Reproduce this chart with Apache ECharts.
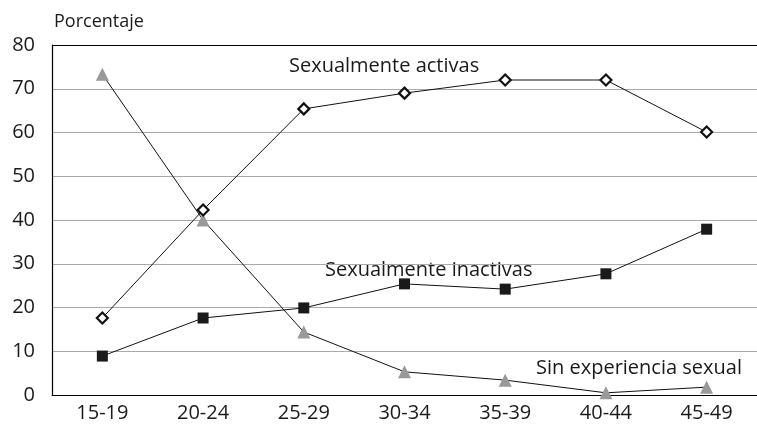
<!DOCTYPE html>
<html>
<head>
<meta charset="utf-8">
<script src="https://cdn.jsdelivr.net/npm/echarts@6/dist/echarts.min.js"></script>
<style>
  html, body { margin: 0; padding: 0; background: #fff; }
  #chart { width: 757px; height: 429px; }
</style>
</head>
<body>
<div id="chart"></div>
<script>
// grupos de edad
const categories = ["15-19", "20-24", "25-29", "30-34", "35-39", "40-44", "45-49"];
const activas = [17.6, 42.3, 65.4, 69.0, 72.0, 72.0, 60.1];
const inactivas = [8.9, 17.6, 19.9, 25.4, 24.2, 27.7, 37.9];
const sinExperiencia = [73.3, 40.0, 14.4, 5.3, 3.4, 0.5, 1.8];

const FONT = "'Open Sans', 'Noto Sans', sans-serif";
const chart = echarts.init(document.getElementById("chart"));

function label(txt, x, y, size) {
  return {
    type: "text",
    x: x,
    y: y,
    style: { text: txt, font: size + "px " + FONT, fill: "#1a1a1a", align: "left", verticalAlign: "middle" }
  };
}

const option = {
  animation: false,
  textStyle: { fontFamily: FONT },
  grid: { left: 52, right: -7, top: 45, bottom: 34, containLabel: false },
  xAxis: {
    type: "category",
    data: categories,
    boundaryGap: true,
    axisLine: { lineStyle: { color: "#000", width: 1.2 } },
    axisTick: { show: false },
    axisLabel: { color: "#1a1a1a", fontSize: 20, margin: 8, fontFamily: FONT }
  },
  yAxis: {
    type: "value",
    min: 0,
    max: 80,
    interval: 10,
    axisLine: { show: true, lineStyle: { color: "#000", width: 1.2 } },
    axisTick: { show: false },
    axisLabel: { color: "#1a1a1a", fontSize: 20, margin: 17, fontFamily: FONT },
    splitLine: {
      lineStyle: {
        color: ["#000", "#aaa", "#aaa", "#aaa", "#aaa", "#aaa", "#aaa", "#aaa", "#000"],
        width: 1.2
      }
    }
  },
  graphic: [
    label("Porcentaje", 54, 22, 18),
    label("Sexualmente activas", 289, 66, 20),
    label("Sexualmente inactivas", 325, 270, 20),
    label("Sin experiencia sexual", 536, 368, 20)
  ],
  series: [
    {
      name: "Sin experiencia sexual",
      type: "line",
      data: sinExperiencia,
      symbol: "triangle",
      symbolSize: 13,
      lineStyle: { color: "#111", width: 1 },
      itemStyle: { color: "#999", borderWidth: 0 },
      z: 2
    },
    {
      name: "Sexualmente inactivas",
      type: "line",
      data: inactivas,
      symbol: "rect",
      symbolSize: 11,
      lineStyle: { color: "#111", width: 1 },
      itemStyle: { color: "#1a1a1a", borderWidth: 0 },
      z: 3
    },
    {
      name: "Sexualmente activas",
      type: "line",
      data: activas,
      symbol: "diamond",
      symbolSize: 11,
      showAllSymbol: true,
      lineStyle: { color: "#111", width: 1 },
      itemStyle: { color: "#fff", borderColor: "#111", borderWidth: 2.2 },
      z: 4
    }
  ]
};

chart.setOption(option);
</script>
</body>
</html>
